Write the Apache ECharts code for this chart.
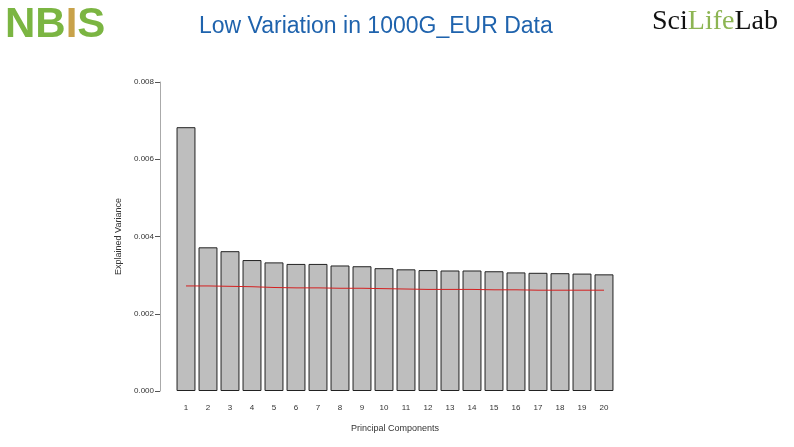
<!DOCTYPE html>
<html>
<head>
<meta charset="utf-8">
<script src="https://cdn.jsdelivr.net/npm/echarts@6/dist/echarts.min.js"></script>
<style>
  html, body { margin: 0; padding: 0; background: #fff; }
  #chart { width: 794px; height: 447px; }
</style>
</head>
<body>
<div id="chart"></div>
<script>
// principal components 1..20
var components = ['1', '2', '3', '4', '5', '6', '7', '8', '9', '10',
  '11', '12', '13', '14', '15', '16', '17', '18', '19', '20'];
// explained variance per component (bars)
var explainedVariance = [0.00683, 0.00372, 0.00362, 0.00339, 0.00333, 0.00329, 0.00329, 0.00325,
  0.00323, 0.00318, 0.00315, 0.00313, 0.00312, 0.00312, 0.00310, 0.00307, 0.00306, 0.00305,
  0.00304, 0.00302];
// red reference line
var nullVariance = [0.00272, 0.00272, 0.00271, 0.00270, 0.00268, 0.00267, 0.00267, 0.00266,
  0.00266, 0.00265, 0.00264, 0.00263, 0.00263, 0.00263, 0.00262, 0.00262, 0.00261, 0.00261,
  0.00261, 0.00261];
var yTicks = [0, 0.002, 0.004, 0.006, 0.008];

var chart = echarts.init(document.getElementById('chart'));
var option = {
  animation: false,
  backgroundColor: '#fff',
  title: {
    text: 'Low Variation in 1000G_EUR Data',
    left: 194,
    top: 10,
    textStyle: {
      fontFamily: 'Liberation Sans',
      fontSize: 23,
      fontWeight: 'normal',
      color: '#1f63ad'
    }
  },
  graphic: [
    {
      type: 'text',
      left: 5,
      top: 4,
      style: {
        text: '{g|NB}{d|I}{g|S}',
        rich: {
          g: { fontFamily: 'Liberation Sans', fontSize: 42, fontWeight: 'bold', fill: '#7bb542' },
          d: { fontFamily: 'Liberation Sans', fontSize: 42, fontWeight: 'bold', fill: '#c8a24a' }
        }
      }
    },
    {
      type: 'text',
      left: 652,
      top: 8,
      style: {
        text: '{k|Sci}{l|Life}{k|Lab}',
        rich: {
          k: { fontFamily: 'Liberation Serif', fontSize: 28, fill: '#111' },
          l: { fontFamily: 'Liberation Serif', fontSize: 28, fill: '#8db553' }
        }
      }
    }
  ],
  grid: {
    left: 175,
    right: 179,
    top: 82,
    bottom: 56
  },
  xAxis: {
    type: 'category',
    data: components,
    name: 'Principal Components',
    nameLocation: 'middle',
    nameGap: 33,
    nameTextStyle: { fontFamily: 'Liberation Sans', fontSize: 9, color: '#333' },
    axisLine: { show: false },
    axisTick: { show: false },
    axisLabel: { fontFamily: 'Liberation Sans', fontSize: 8, color: '#333', margin: 13 }
  },
  yAxis: {
    type: 'value',
    min: 0,
    max: 0.008,
    interval: 0.002,
    offset: 15,
    name: 'Explained Variance',
    nameLocation: 'middle',
    nameGap: 27,
    nameTextStyle: { fontFamily: 'Liberation Sans', fontSize: 9, color: '#333' },
    splitLine: { show: false },
    axisLine: { show: true, lineStyle: { color: '#aaa', width: 1 } },
    axisTick: { show: true, length: 5, lineStyle: { color: '#555' } },
    axisLabel: {
      fontFamily: 'Liberation Sans',
      fontSize: 8,
      color: '#333',
      margin: 6,
      formatter: function (v) { return v.toFixed(3); }
    }
  },
  series: [
    {
      type: 'bar',
      data: explainedVariance,
      barCategoryGap: '14%',
      itemStyle: { color: '#bebebe', borderColor: '#222', borderWidth: 1 }
    },
    {
      type: 'line',
      data: nullVariance,
      symbol: 'none',
      lineStyle: { color: '#d42020', width: 1 },
      z: 5
    }
  ]
};
chart.setOption(option);
</script>
</body>
</html>
